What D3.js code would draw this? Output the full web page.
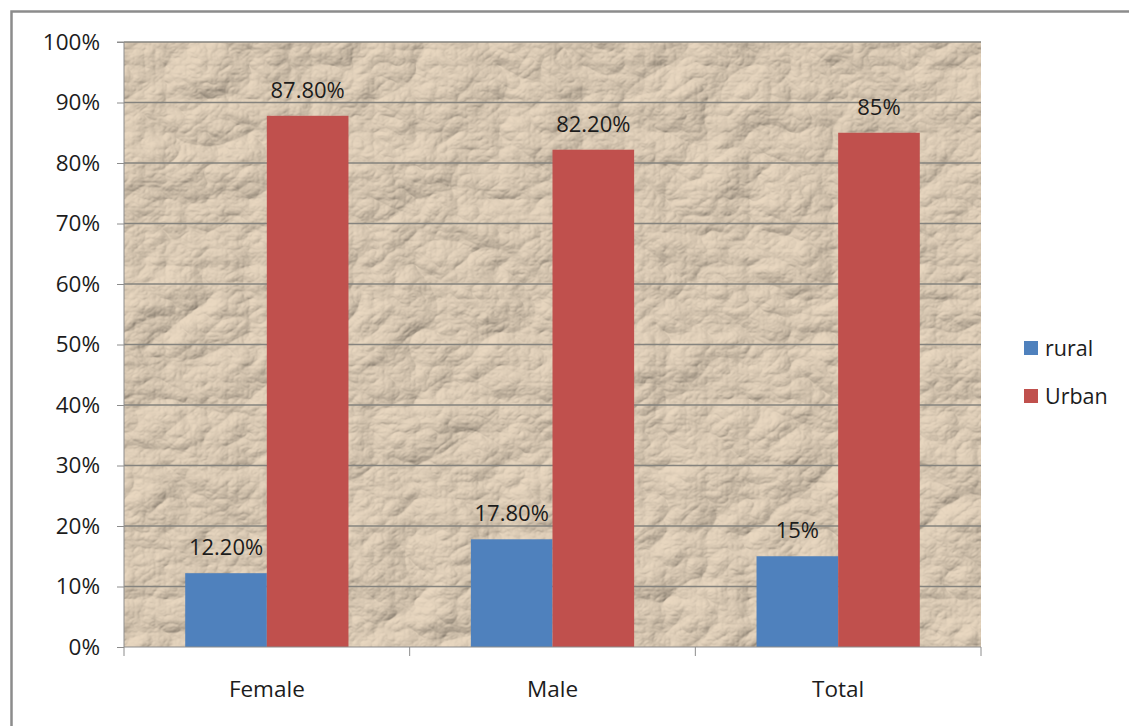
<!DOCTYPE html>
<html><head><meta charset="utf-8">
<script src="https://cdn.jsdelivr.net/npm/d3@7"></script>
<style>html,body{margin:0;padding:0;background:#fff;overflow:hidden}</style>
</head><body>
<script>
const categories = ["Female", "Male", "Total"];
const seriesNames = ["rural", "Urban"];
const rural = [12.2, 17.8, 15];
const urban = [87.8, 82.2, 85];
const ruralLabels = ["12.20%", "17.80%", "15%"];
const urbanLabels = ["87.80%", "82.20%", "85%"];
const yTicks = [0, 10, 20, 30, 40, 50, 60, 70, 80, 90, 100];
const colors = ["#4f81bd", "#c0504d"];

(function () {
const W = 1129, H = 726;
const svg = d3.select("body").append("svg").attr("width", W).attr("height", H);
const defs = svg.append("defs");
const f = defs.append("filter").attr("id", "paper").attr("x", 0).attr("y", 0).attr("width", "100%").attr("height", "100%");
f.append("feTurbulence").attr("type", "turbulence").attr("baseFrequency", "0.012 0.015").attr("numOctaves", 5).attr("seed", 11).attr("result", "noise");
const light = f.append("feDiffuseLighting").attr("in", "noise").attr("lighting-color", "#d8c8b2").attr("surfaceScale", 6).attr("diffuseConstant", 1.2).attr("result", "lit");
light.append("feDistantLight").attr("azimuth", 230).attr("elevation", 54);

const font = "'Open Sans', 'Liberation Sans', sans-serif";
const ink = "#1c1c1c";
const pLeft = 124, pRight = 981, pTop = 42, pBottom = 647;

// outer frame
svg.append("rect").attr("x", 11.5).attr("y", 11.5).attr("width", W + 20).attr("height", H + 20)
  .attr("fill", "none").attr("stroke", "#8c8c8c").attr("stroke-width", 2.5);

const x = d3.scaleBand().domain(categories).range([pLeft, pRight]).paddingInner(0).paddingOuter(0);
const inner = d3.scaleBand().domain(seriesNames).range([0, x.bandwidth()]).paddingInner(0).paddingOuter(0.75);
const y = d3.scaleLinear().domain([0, 100]).range([pBottom, pTop]);

// plot background texture
svg.append("rect").attr("x", pLeft).attr("y", pTop).attr("width", pRight - pLeft).attr("height", pBottom - pTop)
  .attr("fill", "#cfbba1").attr("filter", "url(#paper)");

// gridlines
svg.append("g").selectAll("line").data(yTicks.filter(d => d > 0)).join("line")
  .attr("x1", pLeft).attr("x2", pRight).attr("y1", d => y(d)).attr("y2", d => y(d))
  .attr("stroke", "#85837e").attr("stroke-width", 1.3);

// bars
const data = categories.map((c, i) => ({c, vals: [rural[i], urban[i]], labels: [ruralLabels[i], urbanLabels[i]]}));
const g = svg.append("g");
data.forEach(d => {
  seriesNames.forEach((s, j) => {
    const bx = x(d.c) + inner(s);
    g.append("rect").attr("x", bx).attr("y", y(d.vals[j])).attr("width", inner.bandwidth())
      .attr("height", pBottom - y(d.vals[j])).attr("fill", colors[j]);
    g.append("text").attr("x", bx + inner.bandwidth() / 2).attr("y", y(d.vals[j]) - 18)
      .attr("text-anchor", "middle").attr("font-family", font).attr("font-size", 22)
      .attr("fill", ink).text(d.labels[j]);
  });
});

// y axis
const yAxis = d3.axisLeft(y).tickValues(yTicks).tickFormat(d => d + "%").tickSize(7).tickPadding(10);
const ya = svg.append("g").attr("transform", `translate(${pLeft},0)`).call(yAxis);
ya.select(".domain").attr("stroke", "#8c8c8c").attr("d", `M-7,${pTop}H0V${pBottom}`);
ya.selectAll(".tick line").attr("stroke", "#8c8c8c");
ya.selectAll("text").attr("font-family", font).attr("font-size", 22.5).attr("fill", ink).attr("x", -24);

// x axis
const xa = svg.append("g").attr("transform", `translate(0,${pBottom})`);
xa.append("line").attr("x1", pLeft).attr("x2", pRight).attr("y1", 0).attr("y2", 0).attr("stroke", "#8c8c8c");
xa.selectAll("line.t").data([...categories.map(c => x(c)), pRight]).join("line").attr("class", "t")
  .attr("x1", d => d).attr("x2", d => d).attr("y1", 0).attr("y2", 9).attr("stroke", "#8c8c8c");
xa.selectAll("text").data(categories).join("text")
  .attr("x", d => x(d) + x.bandwidth() / 2).attr("y", 50).attr("text-anchor", "middle")
  .attr("font-family", font).attr("font-size", 22.5).attr("fill", ink).text(d => d);

// legend
const lg = svg.append("g");
seriesNames.forEach((s, j) => {
  const ly = 348 + j * 48;
  lg.append("rect").attr("x", 1024).attr("y", ly - 7).attr("width", 14).attr("height", 14).attr("fill", colors[j]);
  lg.append("text").attr("x", 1045).attr("y", ly + 8).attr("font-family", font).attr("font-size", 21.5)
    .attr("fill", ink).text(s);
});
})();
</script>
</body></html>
